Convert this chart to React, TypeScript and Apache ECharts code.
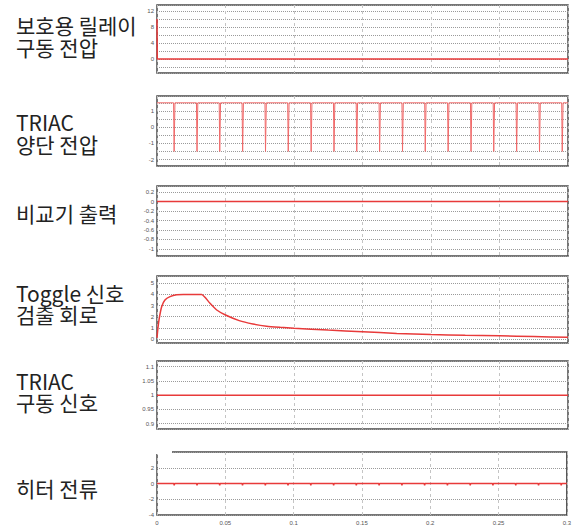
import React, { useEffect, useRef } from "react";
import * as echarts from "echarts";

// ---- data ----
const timeTicks = [0, 0.05, 0.1, 0.15, 0.2, 0.25, 0.3];

const panelTitles = [
  "보호용 릴레이\n구동 전압",
  "TRIAC\n양단 전압",
  "비교기 출력",
  "Toggle 신호\n검출 회로",
  "TRIAC\n구동 신호",
  "히터 전류",
];

// 1. relay drive voltage
const relayT = [0, 0.0002, 0.3];
const relayV = [10, 0, 0];

// 2. TRIAC voltage: square level with narrow dips
const triacHigh = 1.5;
const triacLow = -1.5;
const dipTimes = [
  0.0126, 0.0293, 0.0459, 0.0626, 0.0793, 0.0959, 0.1126, 0.1293, 0.1459,
  0.1626, 0.1793, 0.1959, 0.2126, 0.2293, 0.2459, 0.2626, 0.2793, 0.2959,
];

// 3. comparator output
const compT = [0, 0.3];
const compV = [0, 0];

// 4. toggle detection
const toggleT = [0, 0.0007, 0.0017, 0.0034, 0.0058, 0.0095, 0.0144, 0.0192, 0.0326, 0.035, 0.0387, 0.0436, 0.05, 0.06, 0.07, 0.08, 0.09, 0.1, 0.125, 0.15, 0.175, 0.2, 0.225, 0.25, 0.275, 0.3];
const toggleV = [0.1, 1.0, 1.9, 2.9, 3.5, 3.8, 3.97, 4.0, 4.0, 3.75, 3.2, 2.6, 2.15, 1.65, 1.35, 1.15, 1.05, 0.97, 0.8, 0.65, 0.5, 0.4, 0.33, 0.28, 0.22, 0.15];

// 5. TRIAC drive signal
const driveT = [0, 0.3];
const driveV = [1, 1];

// 6. heater current (flat with tiny marks at the dips)
const heaterBase = 0;
const heaterMark = -0.25;

// y axis ranges & labels
const yMin = [-3.5, -2.4, -1.15, -0.36, 0.881, -4];
const yMax = [13.5, 1.92, 0.33, 5.65, 1.12, 4];
const yStep = [2, 0.5, 0.2, 1, 0.05, 2];
const yLabels = [
  [0, 4, 8, 12],
  [-2, -1, 0, 1],
  [-1, -0.8, -0.6, -0.4, -0.2, 0, 0.2],
  [0, 1, 2, 3, 4, 5],
  [0.9, 0.95, 1, 1.05, 1.1],
  [-4, -2, 0, 2],
];

// layout (pixels)
const gridTops = [5, 96, 186, 276, 361, 452];
const gridHeights = [68, 70, 70, 67, 68, 63];
const titleCenters = [36, 133, 212.5, 303.5, 391.5, 488];

function pairs(t: number[], v: number[]) {
  return t.map((x, i) => [x, v[i]]);
}

export default function App() {
  const ref = useRef<HTMLDivElement>(null);
  useEffect(() => {
    if (!ref.current) return;
    const chart = echarts.init(ref.current, null, { renderer: "svg" });

    const triacData: number[][] = [[0, triacHigh]];
    dipTimes.forEach((t) => {
      triacData.push([t - 0.0005, triacHigh], [t - 0.0001, triacLow], [t + 0.0001, triacLow], [t + 0.0005, triacHigh]);
    });
    triacData.push([0.3, triacHigh]);

    const heaterData: number[][] = [[0, heaterBase]];
    dipTimes.forEach((t) => {
      heaterData.push([t - 0.0003, heaterBase], [t, heaterMark], [t + 0.0003, heaterBase]);
    });
    heaterData.push([0.3, heaterBase]);

    const seriesData = [
      pairs(relayT, relayV),
      triacData,
      pairs(compT, compV),
      pairs(toggleT, toggleV),
      pairs(driveT, driveV),
      heaterData,
    ];

    const grids = gridTops.map((top, i) => ({
      left: 157,
      width: 411,
      top,
      height: gridHeights[i],
      show: true,
      borderColor: "#4a4a4a",
      borderWidth: 1.5,
      backgroundColor: "#fff",
    }));

    const xAxes = gridTops.map((_, i) => ({
      type: "value",
      gridIndex: i,
      min: 0,
      max: 0.3,
      interval: 0.05,
      axisLine: { show: false },
      axisTick: { show: false },
      axisLabel: {
        show: i === 5,
        fontSize: 6,
        color: "#555",
        margin: 5,
        formatter: (v: number) => {
          const hit = timeTicks.find((l) => Math.abs(l - v) < 1e-6);
          return hit === undefined ? "" : String(hit);
        },
      },
      splitLine: { show: true, lineStyle: { color: "#c4c4c4", type: [3, 3], width: 1 } },
    }));

    const yAxes = gridTops.map((_, i) => ({
      type: "value",
      gridIndex: i,
      min: yMin[i],
      max: yMax[i],
      minInterval: yStep[i],
      maxInterval: yStep[i],
      axisLine: { show: false },
      axisTick: { show: false },
      axisLabel: {
        fontSize: 6,
        color: "#555",
        margin: 3,
        showMinLabel: true,
        showMaxLabel: true,
        formatter: (v: number) => {
          const hit = yLabels[i].find((l) => Math.abs(l - v) < 1e-6);
          return hit === undefined ? "" : String(hit);
        },
      },
      splitLine: { show: true, lineStyle: { color: "#9a9a9a", type: [1, 1], width: 1 } },
    }));

    const series = seriesData.map((data, i) => ({
      type: "line",
      xAxisIndex: i,
      yAxisIndex: i,
      data,
      showSymbol: false,
      smooth: i === 3 ? 0.2 : false,
      lineStyle: { color: i === 1 ? "#f06a6a" : "#e83a3a", width: i === 1 ? 1 : 1.5 },
      z: 3,
    }));

    const titleEls: any[] = panelTitles.map((txt, i) => ({
      type: "text",
      x: 16,
      y: titleCenters[i],
      style: {
        text: txt,
        fontSize: 21,
        lineHeight: 21.5,
        fontFamily: "'Noto Sans CJK KR', 'Noto Sans', sans-serif",
        fill: "#222",
        verticalAlign: "middle",
        align: "left",
      },
    }));
    titleEls.push({
      type: "rect",
      shape: { x: 155, y: 449, width: 17, height: 5 },
      style: { fill: "#fff" },
      z: 100,
    });

    chart.setOption({
      animation: false,
      backgroundColor: "#fff",
      grid: grids,
      xAxis: xAxes,
      yAxis: yAxes,
      series,
      graphic: titleEls,
    });
    return () => chart.dispose();
  }, []);
  return <div ref={ref} style={{ position: "fixed", left: 0, top: 0, width: 574, height: 531 }} />;
}
